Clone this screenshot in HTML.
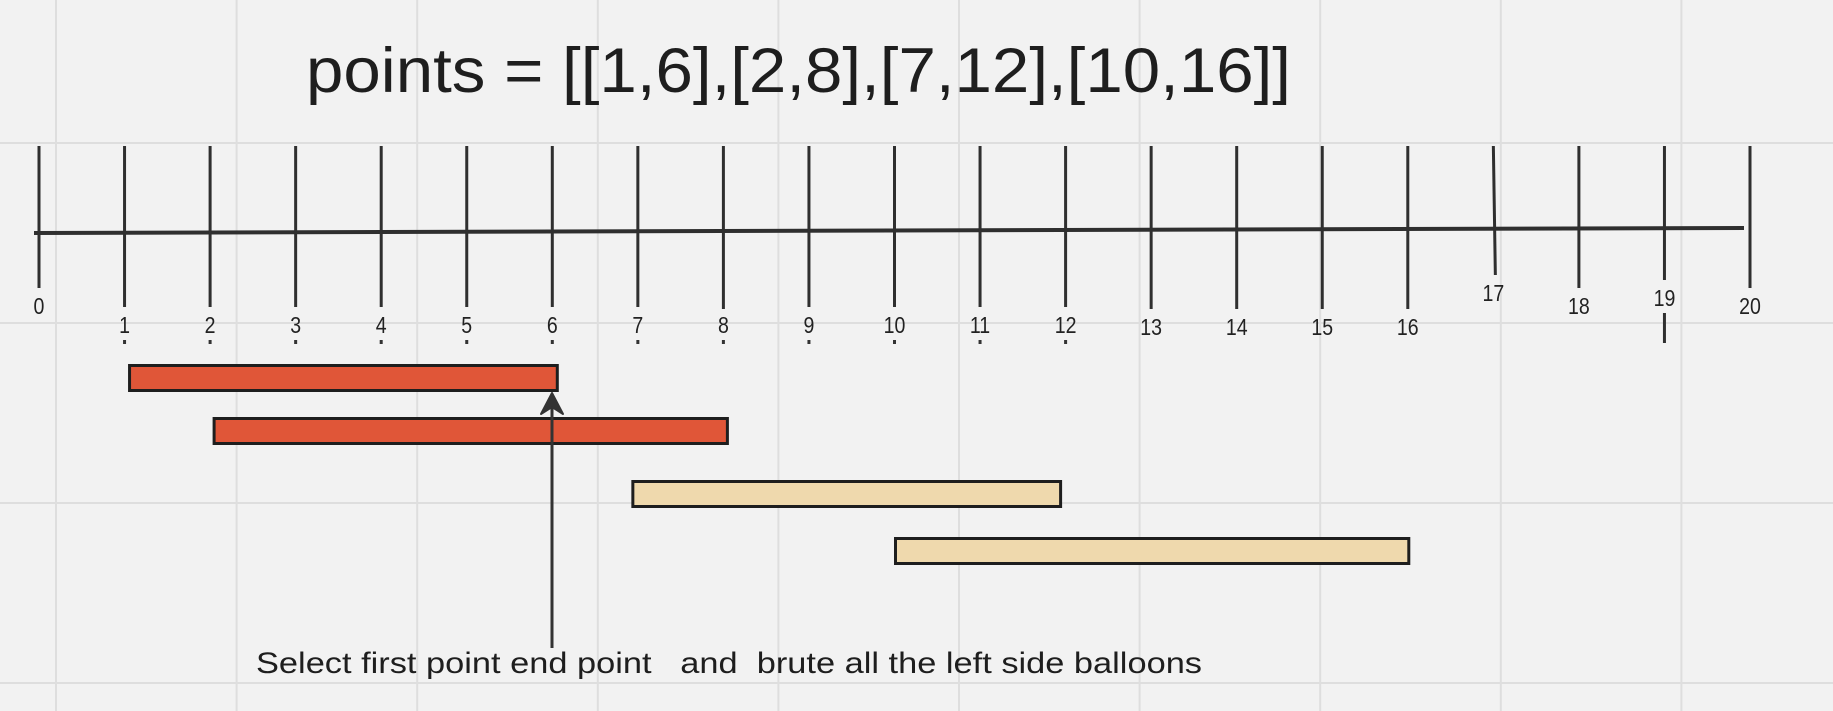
<!DOCTYPE html>
<html><head><meta charset="utf-8"><style>
html,body{margin:0;padding:0;background:#f2f2f2;}
svg{display:block;}
text{font-family:"Liberation Sans","DejaVu Sans",sans-serif;fill:#222;white-space:pre;}
</style></head><body>
<svg id="chart" width="1833" height="711" viewBox="0 0 1833 711" xml:space="preserve">
<rect x="0" y="0" width="1833" height="711" fill="#f2f2f2"/>
<g id="grid"></g>
<text x="306" y="92" font-size="63" textLength="985" lengthAdjust="spacingAndGlyphs" style="fill:#1e1e1e">points = [[1,6],[2,8],[7,12],[10,16]]</text>
<line x1="34" y1="233" x2="1744" y2="228" stroke="#2f2f2f" stroke-width="4"/>
<g id="ticks"></g>
<g id="bars"></g>
<line x1="552" y1="648" x2="552" y2="398" stroke="#333" stroke-width="3"/>
<path d="M552 393 L541 414 L552 407 L563 414 Z" fill="#333" stroke="#333" stroke-width="2" stroke-linejoin="round"/>
<text x="256" y="673" font-size="30" textLength="946" lengthAdjust="spacingAndGlyphs" style="fill:#1e1e1e">Select first point end point   and  brute all the left side balloons</text>
</svg>
<script>
const tickValues = [0,1,2,3,4,5,6,7,8,9,10,11,12,13,14,15,16,17,18,19,20];
const tickLabels = ["0","1","2","3","4","5","6","7","8","9","10","11","12","13","14","15","16","17","18","19","20"];
const intervalStarts = [1,2,7,10];
const intervalEnds = [6,8,12,16];
const intervalHighlighted = [true,true,false,false];

const NS = "http://www.w3.org/2000/svg";
function xScale(v){ return 39 + v * 85.55; }
function mk(tag, attrs, parent){
  const e = document.createElementNS(NS, tag);
  for (const k in attrs) e.setAttribute(k, attrs[k]);
  parent.appendChild(e);
  return e;
}
const grid = document.getElementById('grid');
for (let gx = 56; gx < 1833; gx += 180.6) {
  const l = mk('line', {x1:gx, y1:0, x2:gx, y2:711, stroke:'#dedede', 'stroke-width':2}, grid);
  
  
}
[143,323,503,683].forEach(gy => {
  const l = mk('line', {x1:0, y1:gy, x2:1833, y2:gy, stroke:'#dedede', 'stroke-width':2}, grid);
  
  
});
const ticks = document.getElementById('ticks');
const tickBottom = {0:288,8:309,13:309,14:309,15:309,16:309,17:275,18:288,19:280,20:288};
const labelY = {0:314,13:335,14:335,15:335,16:335,17:301,18:314,19:306,20:314};
tickValues.forEach((v, i) => {
  const x = xScale(v);
  const yb = tickBottom[v] || 307;
  const t = mk('line', {x1:x, y1:146, x2:(v===17?x+2:x), y2:yb, stroke:'#2f2f2f', 'stroke-width':3}, ticks);
  
  
  const ly = labelY[v] || 333;
  const lab = mk('text', {x:x, y:ly, 'font-size':23, 'text-anchor':'middle', transform:'translate('+x+' 0) scale(0.85 1) translate('+(-x)+' 0)'}, ticks);
  lab.textContent = tickLabels[i];
  
  
  if (v >= 1 && v <= 12) {
    const d = mk('rect', {x:x-1.5, y:340, width:3, height:4, fill:'#333'}, ticks);
    
    
  }
  if (v === 19) {
    const e = mk('line', {x1:x, y1:313, x2:x, y2:343, stroke:'#2f2f2f', 'stroke-width':3}, ticks);
    
    
  }
});
const bars = document.getElementById('bars');
const barTops = [364,417,480,537];
const barNudge = [5,4,-5,1];
intervalStarts.forEach((s, i) => {
  const x1 = xScale(s) + barNudge[i], x2 = xScale(intervalEnds[i]) + barNudge[i];
  const r = mk('rect', {x:x1, y:barTops[i] + 1.5, width:x2 - x1, height:25, fill:intervalHighlighted[i] ? '#e05638' : '#efd9ad', stroke:'#1e1e1e', 'stroke-width':3}, bars);
  
  
});
</script>
</body></html>
